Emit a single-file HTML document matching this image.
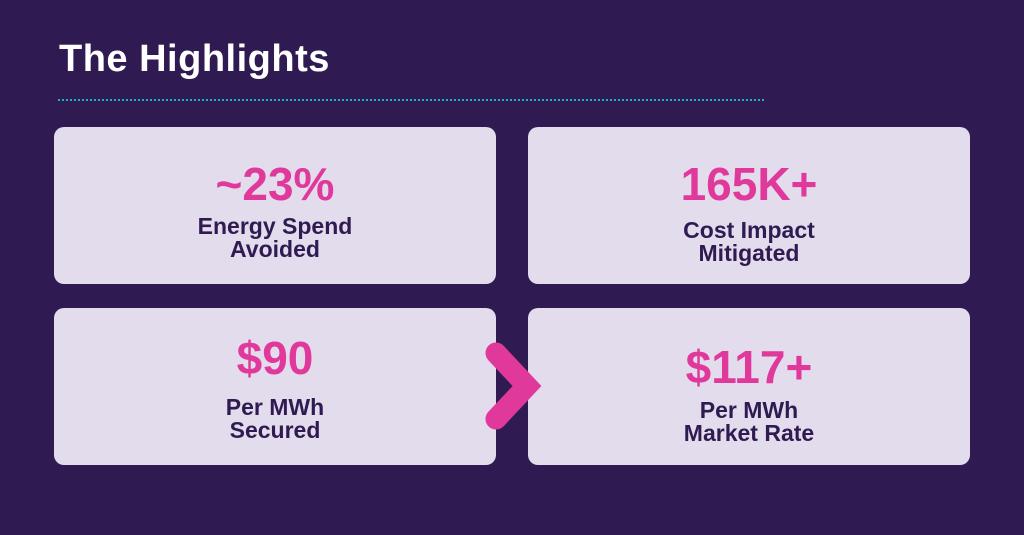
<!DOCTYPE html>
<html><head><meta charset="utf-8"><style>
body{margin:0;width:1024px;height:535px;background:#2f1b52;position:relative;overflow:hidden;font-family:"Liberation Sans",sans-serif}
.t{position:absolute;left:59px;top:38px;color:#fff;font-weight:bold;font-size:38px;letter-spacing:0.5px}
.line{position:absolute;left:58px;top:99px;width:706px;border-top:2px dotted #1ab4c4}
.card{position:absolute;width:442px;height:157px;background:#e2dcec;border-radius:10px}
.big{position:absolute;left:0;right:0;text-align:center;color:#e0399b;font-weight:bold;font-size:46px;line-height:50px}
.lab{position:absolute;left:0;right:0;text-align:center;color:#2f1b52;font-weight:bold;font-size:23px;line-height:23px}
</style></head><body>
<div class="t">The Highlights</div>
<div class="line"></div>
<div class="card" style="left:54px;top:127px">
<div class="big" style="top:32px">~23%</div>
<div class="lab" style="top:88px">Energy Spend<br>Avoided</div></div>
<div class="card" style="left:528px;top:127px">
<div class="big" style="top:32px">165K+</div>
<div class="lab" style="top:92px">Cost Impact<br>Mitigated</div></div>
<div class="card" style="left:54px;top:308px">
<div class="big" style="top:25px">$90</div>
<div class="lab" style="top:88px">Per MWh<br>Secured</div></div>
<div class="card" style="left:528px;top:308px">
<div class="big" style="top:34px">$117+</div>
<div class="lab" style="top:91px">Per MWh<br>Market Rate</div></div>
<svg style="position:absolute;left:0;top:0" width="1024" height="535">
<polyline points="496,353 527,386 496,419" fill="none" stroke="#e0399b" stroke-width="21" stroke-linecap="round" stroke-linejoin="miter"/>
</svg>
</body></html>
